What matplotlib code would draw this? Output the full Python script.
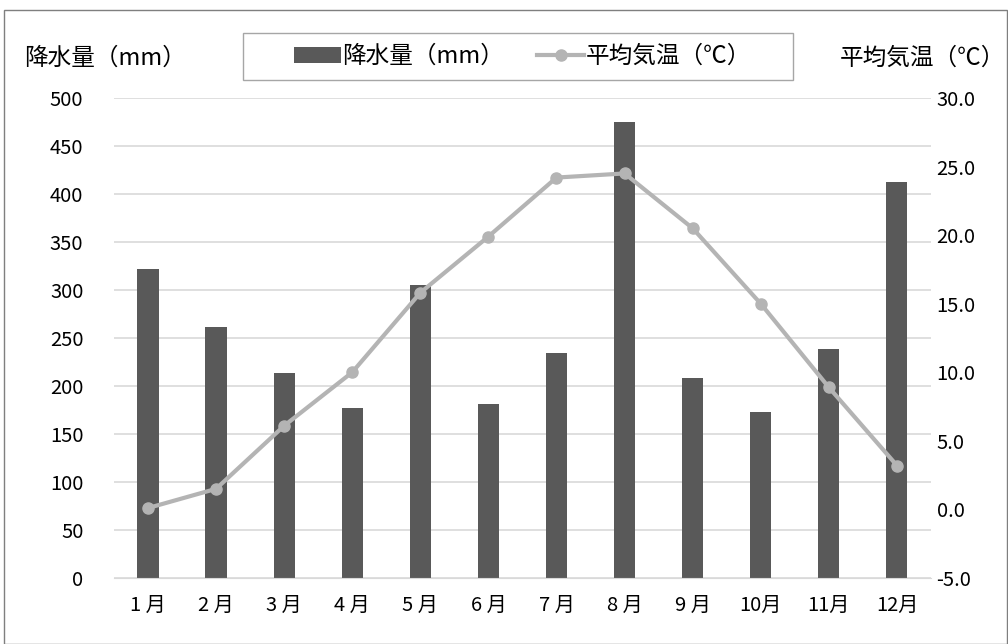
import matplotlib.pyplot as plt
from matplotlib.patches import Rectangle
from matplotlib.ticker import FormatStrFormatter

plt.rcParams['font.family'] = ['Noto Sans CJK JP', 'DejaVu Sans']

months = ['1 月', '2 月', '3 月', '4 月', '5 月', '6 月', '7 月', '8 月', '9 月', '10月', '11月', '12月']
rain = [322, 261, 214, 177, 305, 181, 234, 475, 208, 173, 239, 412]
temp = [0.1, 1.5, 6.1, 10.0, 15.8, 19.9, 24.2, 24.5, 20.5, 15.0, 8.9, 3.2]

fig = plt.figure(figsize=(10.08, 6.44), dpi=100)
ax = fig.add_axes([0.113, 0.1025, 0.8106, 0.7453])
ax2 = ax.twinx()

x = range(len(months))
bars = ax.bar(x, rain, width=0.31, color='#595959', zorder=2, label='降水量（mm）')
line, = ax2.plot(x, temp, color='#b4b4b4', lw=3, marker='o', ms=8,
                 zorder=3, label='平均気温（℃）')

ax.set_xlim(-0.5, 11.5)
ax.set_ylim(0, 500)
ax.set_yticks(range(0, 501, 50))
ax2.set_ylim(-5, 30)
ax2.set_yticks(range(-5, 31, 5))
ax2.yaxis.set_major_formatter(FormatStrFormatter('%.1f'))

ax.set_xticks(list(x))
ax.set_xticklabels(months)
ax.grid(axis='y', color='#d9d9d9', lw=1.2, zorder=0)
ax.set_axisbelow(True)
for a in (ax, ax2):
    for s in a.spines.values():
        s.set_visible(False)
    a.tick_params(length=0, labelsize=14.5, colors='#000000')
ax.tick_params(axis='y', pad=22)
ax2.tick_params(axis='y', pad=4)
ax.tick_params(axis='x', pad=12)
ax.spines['bottom'].set_visible(True)
ax.spines['bottom'].set_color('#d9d9d9')

fig.text(0.024, 0.91, '降水量（mm）', fontsize=17, va='center', ha='left')
fig.text(0.997, 0.91, '平均気温（℃）', fontsize=17, va='center', ha='right')

# legend entries without frame, frame drawn separately (wider box)
leg = fig.legend(handles=[bars, line], loc='center', bbox_to_anchor=(0.518, 0.912),
                 ncol=2, fontsize=17, frameon=False, handlelength=2.0,
                 handletextpad=0.05, columnspacing=1.4, borderaxespad=0)
fig.patches.append(Rectangle((0.241, 0.876), 0.546, 0.073, transform=fig.transFigure,
                             fill=False, edgecolor='#a6a6a6', lw=1))

fig.patches.append(Rectangle((0.004, 0.0), 0.995, 0.984, transform=fig.transFigure,
                             fill=False, edgecolor='#7f7f7f', lw=1))

fig.savefig('out.png', dpi=100)
